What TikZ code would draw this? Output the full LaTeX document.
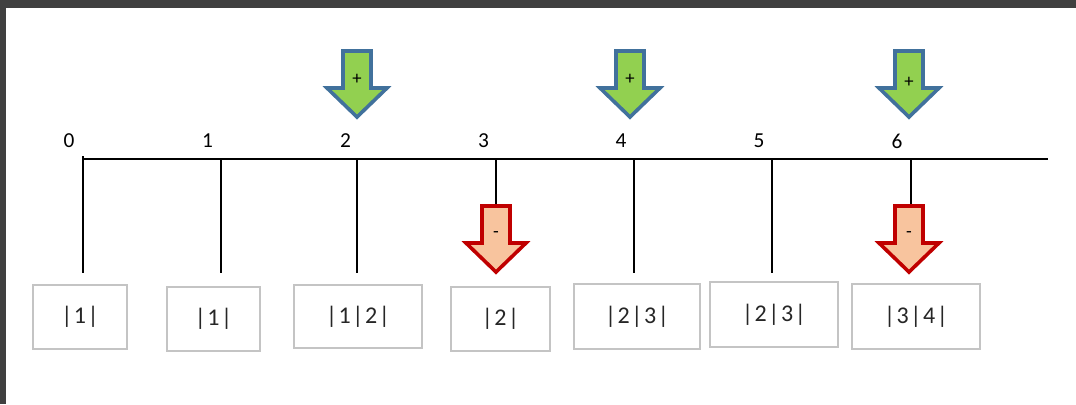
\documentclass[tikz,border=0pt]{standalone}
\usepackage{fontspec}
\setmainfont{Carlito}
\definecolor{frame}{HTML}{404040}
\definecolor{gfill}{HTML}{92D050}
\definecolor{gline}{HTML}{41719C}
\definecolor{rfill}{HTML}{F8C49E}
\definecolor{rline}{HTML}{C00000}
\definecolor{boxline}{HTML}{C4C4C4}
\newcommand\bsep{\hspace{1.2pt}}
\tikzset{
  dnarrow/.pic={\path[pic actions] (-14,0) -- (14,0) -- (14,37) -- (30,37) -- (0,66) -- (-30,37) -- (-14,37) -- cycle;},
  plusarrow/.style={fill=gfill, draw=gline, line width=2.7pt, line join=miter},
  minusarrow/.style={fill=rfill, draw=rline, line width=2.7pt, line join=miter},
  axislab/.style={font=\fontsize{16}{18}\selectfont, inner sep=0pt},
  cellbox/.style={draw=boxline, line width=1.2pt, fill=white, text=black!85, font=\fontsize{18}{20}\selectfont, inner sep=0pt},
  signlab/.style={font=\fontsize{14}{14}\selectfont, inner sep=0pt},
  rule/.style={line width=1.1pt, black},
}
\begin{document}
\begin{tikzpicture}[x=0.75pt,y=-0.75pt]
\useasboundingbox (0,0) rectangle (1076,404);
\fill[white] (0,0) rectangle (1076,404);
\fill[frame] (0,0) rectangle (1076,8);
\fill[frame] (0,0) rectangle (6,404);
% axis
\coordinate (axL) at (83,159);
\coordinate (axR) at (1048,159);
\coordinate (tk) at (83,156);
\draw[rule] (axL) -- (axR);
\draw[rule] (tk) -- (axL);
% tick points
\foreach \i/\x in {0/83,1/221,2/357,3/496,4/634,5/772,6/911}{
  \coordinate (t\i) at (\x,159);
}
\foreach \i/\x in {0/69,1/207.5,2/345.5,3/483.5,4/621,5/759,6/897}{
  \node[axislab] (l\i) at (\x,141) {\i};
}
\foreach \i/\x in {0/83,1/221,2/357,4/634,5/772}{
  \coordinate (b\i) at (\x,273);
  \draw[rule] (t\i) -- (b\i);
}
\coordinate (b3) at (496,204);
\coordinate (b6) at (911,204);
\draw[rule] (t3) -- (b3);
\draw[rule] (t6) -- (b6);
% boxes
\node[cellbox, minimum width=94*0.75pt, minimum height=64*0.75pt] (c1) at (80,317) {|\bsep1\bsep|};
\node[cellbox, minimum width=93*0.75pt, minimum height=64*0.75pt] (c2) at (213.5,319) {|\bsep1\bsep|};
\node[cellbox, minimum width=128*0.75pt, minimum height=63*0.75pt] (c3) at (358,316.5) {|\bsep1\bsep|\bsep2\bsep|};
\node[cellbox, minimum width=99*0.75pt, minimum height=64*0.75pt] (c4) at (500.5,319) {|\bsep2\bsep|};
\node[cellbox, minimum width=126*0.75pt, minimum height=65*0.75pt] (c5) at (637,316.5) {|\bsep2\bsep|\bsep3\bsep|};
\node[cellbox, minimum width=128*0.75pt, minimum height=65*0.75pt] (c6) at (774,314.5) {|\bsep2\bsep|\bsep3\bsep|};
\node[cellbox, minimum width=128*0.75pt, minimum height=65*0.75pt] (c7) at (916,316.5) {|\bsep3\bsep|\bsep4\bsep|};
% plus arrows
\pic[plusarrow] (ga2) at (357,51) {dnarrow};
\pic[plusarrow] (ga4) at (630,51) {dnarrow};
\pic[plusarrow] (ga6) at (909,51) {dnarrow};
\node[signlab] (p2) at (357,79) {+};
\node[signlab] (p4) at (630,79) {+};
\node[signlab] (p6) at (909,82) {+};
% minus arrows
\pic[minusarrow] (ra3) at (496,206) {dnarrow};
\pic[minusarrow] (ra6) at (909,206) {dnarrow};
\node[signlab] (m3) at (496,235) {-};
\node[signlab] (m6) at (909,235) {-};
\end{tikzpicture}
\end{document}
